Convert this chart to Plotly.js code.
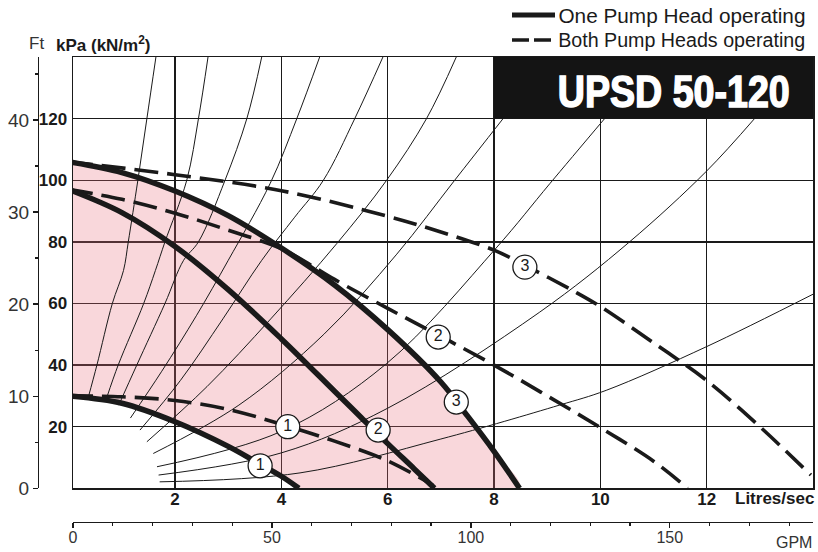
<!DOCTYPE html>
<html><head><meta charset="utf-8">
<script src="https://cdn.plot.ly/plotly-3.0.1.min.js"></script>
<style>html,body{margin:0;padding:0;background:#fff}#chart{width:818px;height:552px}</style>
</head><body><div id="chart"></div>
<script>
// ---- Data (flow in litres/sec, head in kPa) ----
// One pump head operating (solid curves), speeds 1..3
const oneHeadQ1 = [0, 1, 2, 3, 3.5, 4, 4.33];
const oneHeadH1 = [30, 27.6, 21.6, 13.6, 8.8, 3.9, 0];
const oneHeadQ2 = [0, 1, 2, 3, 4, 5, 5.5, 6, 6.5, 6.88];
const oneHeadH2 = [97, 89.5, 78.5, 64.5, 48.5, 31.5, 23, 14.5, 6.3, 0];
const oneHeadQ3 = [0, 1, 2, 3, 4, 5, 6, 7, 7.5, 8, 8.48];
const oneHeadH3 = [106, 102.5, 96.5, 88.5, 78, 66, 51.5, 34.5, 23.5, 12, 0];
// Both pump heads operating (dashed curves), speeds 1..3
const bothHeadQ1 = [0, 1, 2, 3, 4, 5, 6, 6.85];
const bothHeadH1 = [30, 29.7, 28.5, 25.6, 20.8, 15.3, 8.9, 1];
const bothHeadQ2 = [0, 1, 2, 3, 4, 4.5, 5, 6, 7, 8, 9, 10, 11, 11.64];
const bothHeadH2 = [97, 93.8, 89.3, 83.8, 77.8, 73, 67.8, 58.4, 49.3, 40, 30, 19.7, 8.8, 0];
const bothHeadQ3 = [0, 2, 4, 6, 7, 8, 8.6, 9.5, 10, 11, 12, 13, 13.96];
const bothHeadH3 = [106, 101.8, 96.6, 88.3, 83.2, 77.3, 72.2, 64, 59, 47.2, 35, 20, 4.3];
// Thin system curves
const systemQ = [
  [0.37, 0.53, 0.82, 1.03, 1.12, 1.30, 1.47, 1.64],
  [0.72, 0.93, 1.41, 1.63, 1.81, 2.22, 2.44, 2.62],
  [0.94, 1.28, 1.81, 2.16, 2.44, 2.94, 3.35, 3.63],
  [1.16, 1.75, 2.4, 3.0, 3.79, 4.29, 4.72],
  [1.34, 2.1, 2.9, 3.63, 4.25, 4.79, 5.38, 5.91],
  [1.47, 2.6, 3.8, 5.04, 5.98, 6.73, 7.29],
  [1.59, 3.2, 4.8, 6.17, 7.26, 8.17],
  [1.66, 4, 5.98, 8.04, 9.05, 10.08],
  [1.69, 4, 6, 8.86, 10.55, 12.0, 12.9],
  [1.71, 4.35, 7, 9.23, 10.11, 12, 14]
];
const systemH = [
  [29.7, 40, 60, 70.7, 80, 100, 120, 140],
  [29.7, 40, 60, 70.7, 80, 100, 120, 140],
  [27, 40, 60, 74, 80, 100, 120, 140],
  [22.8, 38, 56, 74, 99, 120, 140],
  [18.9, 35, 55, 74, 88, 100, 120, 140],
  [15.1, 33, 55, 79.4, 100, 120, 140],
  [11.3, 27, 50, 76, 100, 120],
  [7, 18.5, 40.5, 78, 98.9, 120],
  [4.3, 11.5, 26, 57.2, 80, 103, 120],
  [2.1, 5, 16, 27, 31.8, 46, 63]
];
// Circled speed labels
const labelQ = [3.6, 4.12, 5.82, 6.95, 7.29, 8.58];
const labelH = [7.3, 20, 18.9, 49.1, 28, 71.8];
const labelText = ['1', '1', '2', '2', '3', '3'];
// Axis ticks
const flowTicks = [2, 4, 6, 8, 10, 12];
const kpaTicks = [20, 40, 60, 80, 100, 120];
const ftTicks = [0, 10, 20, 30, 40];
const ftMinor = [5, 15, 25, 35, 45];
const gpmTicks = [0, 50, 100, 150];

// ---- Styling / layout helpers ----
const INK = '#1a1a1a';
const FONT = 'Liberation Sans, Arial, sans-serif';
const L = 38, R = 813, T = 57, B = 522;
const px = x => (x - L) / (R - L);
const py = y => (B - y) / (B - T);

const traces = [];
traces.push({
  x: oneHeadQ3.concat(oneHeadQ1.slice().reverse()),
  y: oneHeadH3.concat(oneHeadH1.slice().reverse()),
  mode: 'lines', fill: 'toself', fillcolor: 'rgba(235,110,125,0.28)',
  line: {width: 0, shape: 'spline'}, hoverinfo: 'skip', showlegend: false
});
systemQ.forEach((q, i) => traces.push({
  x: q, y: systemH[i], mode: 'lines',
  line: {color: INK, width: 1, shape: 'spline'}, hoverinfo: 'skip', showlegend: false
}));
[[bothHeadQ1, bothHeadH1], [bothHeadQ2, bothHeadH2], [bothHeadQ3, bothHeadH3]].forEach(([q, h]) => traces.push({
  x: q, y: h, mode: 'lines',
  line: {color: INK, width: 3.6, dash: '24px,9px', shape: 'spline'}, hoverinfo: 'skip', showlegend: false
}));
[[oneHeadQ1, oneHeadH1], [oneHeadQ2, oneHeadH2], [oneHeadQ3, oneHeadH3]].forEach(([q, h]) => traces.push({
  x: q, y: h, mode: 'lines',
  line: {color: INK, width: 5.5, shape: 'spline'}, hoverinfo: 'skip', showlegend: false
}));
traces.push({
  x: labelQ, y: labelH, mode: 'markers+text', text: labelText, textposition: 'middle center',
  textfont: {family: FONT, size: 16, color: INK},
  marker: {size: 24, color: '#fff', line: {color: INK, width: 1.3}},
  hoverinfo: 'skip', showlegend: false
});
traces.push({x: [null], y: [null], xaxis: 'x2', yaxis: 'y', mode: 'lines', showlegend: false, hoverinfo: 'skip'});
traces.push({x: [null], y: [null], xaxis: 'x', yaxis: 'y2', mode: 'lines', showlegend: false, hoverinfo: 'skip'});

const xDom = [px(73), 1];
const yDom = [py(488.3), 1];

const layout = {
  width: 818, height: 552,
  margin: {l: L, r: 818 - R, t: T, b: 552 - B},
  paper_bgcolor: '#fff', plot_bgcolor: '#fff',
  showlegend: false,
  font: {family: FONT, color: INK},
  xaxis: {
    domain: xDom, range: [0.08, 14], anchor: 'y',
    tickvals: flowTicks, ticks: '', showgrid: true, gridcolor: INK, gridwidth: 1.4,
    showline: true, mirror: true, linecolor: INK, linewidth: 1.5, zeroline: false,
    tickfont: {family: FONT, size: 17, color: INK, weight: 'bold'}, ticklabelstandoff: -5
  },
  xaxis2: {
    domain: xDom, overlaying: 'x', anchor: 'free', position: 0, side: 'bottom',
    range: [0, 186], tickvals: gpmTicks, ticks: 'outside', ticklen: 5, tickwidth: 1.3, tickcolor: INK,
    minor: {dtick: 10, tick0: 0, ticks: 'outside', ticklen: 3, tickwidth: 1.2, tickcolor: INK, showgrid: false},
    showgrid: false, showline: true, linecolor: INK, linewidth: 1.3, zeroline: false,
    tickfont: {family: FONT, size: 16, color: '#333'}, ticklabelstandoff: -5
  },
  yaxis: {
    domain: yDom, range: [0, 140], anchor: 'x',
    tickvals: kpaTicks, ticks: '', showgrid: true, gridcolor: INK, gridwidth: 1.4,
    showline: true, mirror: true, linecolor: INK, linewidth: 1.5, zeroline: false,
    tickfont: {family: FONT, size: 17, color: INK, weight: 'bold'}, ticklabelstandoff: 1
  },
  yaxis2: {
    domain: yDom, overlaying: 'y', anchor: 'free', position: 0, side: 'left',
    range: [0, 140 / 2.989], tickvals: ftTicks, ticks: 'outside', ticklen: 5, tickwidth: 1.3, tickcolor: INK,
    minor: {tickvals: ftMinor, ticks: 'outside', ticklen: 3, tickwidth: 1.2, tickcolor: INK, showgrid: false},
    showgrid: false, showline: true, linecolor: INK, linewidth: 1.3, zeroline: false,
    tickfont: {family: FONT, size: 19, color: '#333'}
  },
  shapes: [
    {type: 'rect', xref: 'x', yref: 'y', x0: 8, x1: 14, y0: 120, y1: 140,
     fillcolor: '#141414', line: {width: 0}, layer: 'above'},
    {type: 'line', xref: 'paper', yref: 'paper', x0: px(512), x1: px(555), y0: py(15), y1: py(15),
     line: {color: INK, width: 5}},
    {type: 'line', xref: 'paper', yref: 'paper', x0: px(512), x1: px(555), y0: py(40), y1: py(40),
     line: {color: INK, width: 3.5, dash: '17px,5px'}}
  ],
  annotations: [
    {xref: 'paper', yref: 'paper', x: px(36), y: py(44), text: 'Ft', showarrow: false,
     xanchor: 'center', yanchor: 'middle', font: {family: FONT, size: 17, color: '#333'}},
    {xref: 'paper', yref: 'paper', x: px(54), y: py(44), text: '<b>kPa (kN/m<sup>2</sup>)</b>', showarrow: false,
     xanchor: 'left', yanchor: 'middle', font: {family: FONT, size: 17, color: INK}},
    {xref: 'paper', yref: 'paper', x: px(816), y: py(498), text: '<b>Litres/sec</b>', showarrow: false,
     xanchor: 'right', yanchor: 'middle', font: {family: FONT, size: 17, color: INK}},
    {xref: 'paper', yref: 'paper', x: px(814), y: py(542), text: 'GPM', showarrow: false,
     xanchor: 'right', yanchor: 'middle', font: {family: FONT, size: 16, color: '#333'}},
    {xref: 'paper', yref: 'paper', x: px(681.5), y: py(16), text: 'One Pump Head operating', showarrow: false,
     xanchor: 'center', yanchor: 'middle', font: {family: FONT, size: 20, color: INK}},
    {xref: 'paper', yref: 'paper', x: px(681.5), y: py(40), text: 'Both Pump Heads operating', showarrow: false,
     xanchor: 'center', yanchor: 'middle', font: {family: FONT, size: 20, color: INK}},
    {xref: 'paper', yref: 'paper', x: px(673), y: py(91), text: 'UPSD 50-120', showarrow: false,
     xanchor: 'center', yanchor: 'middle', font: {family: FONT, size: 44, color: '#fff', weight: 'bold'}}
  ]
};

Plotly.newPlot('chart', traces, layout, {staticPlot: true, displayModeBar: false}).then(gd => {
  // condense the wide texts to the widths they occupy in the reference (centred, so they stay in place)
  const fit = {'UPSD 50-120': 232, 'One Pump Head operating': 247, 'Both Pump Heads operating': 247};
  gd.querySelectorAll('.annotation-text').forEach(t => {
    const w = fit[t.textContent];
    if (w) {
      t.setAttribute('textLength', w);
      t.setAttribute('lengthAdjust', 'spacingAndGlyphs');
      if (t.textContent === 'UPSD 50-120') { t.style.stroke = '#fff'; t.style.strokeWidth = '1.5px'; }
    }
  });
});
</script>
</body></html>
